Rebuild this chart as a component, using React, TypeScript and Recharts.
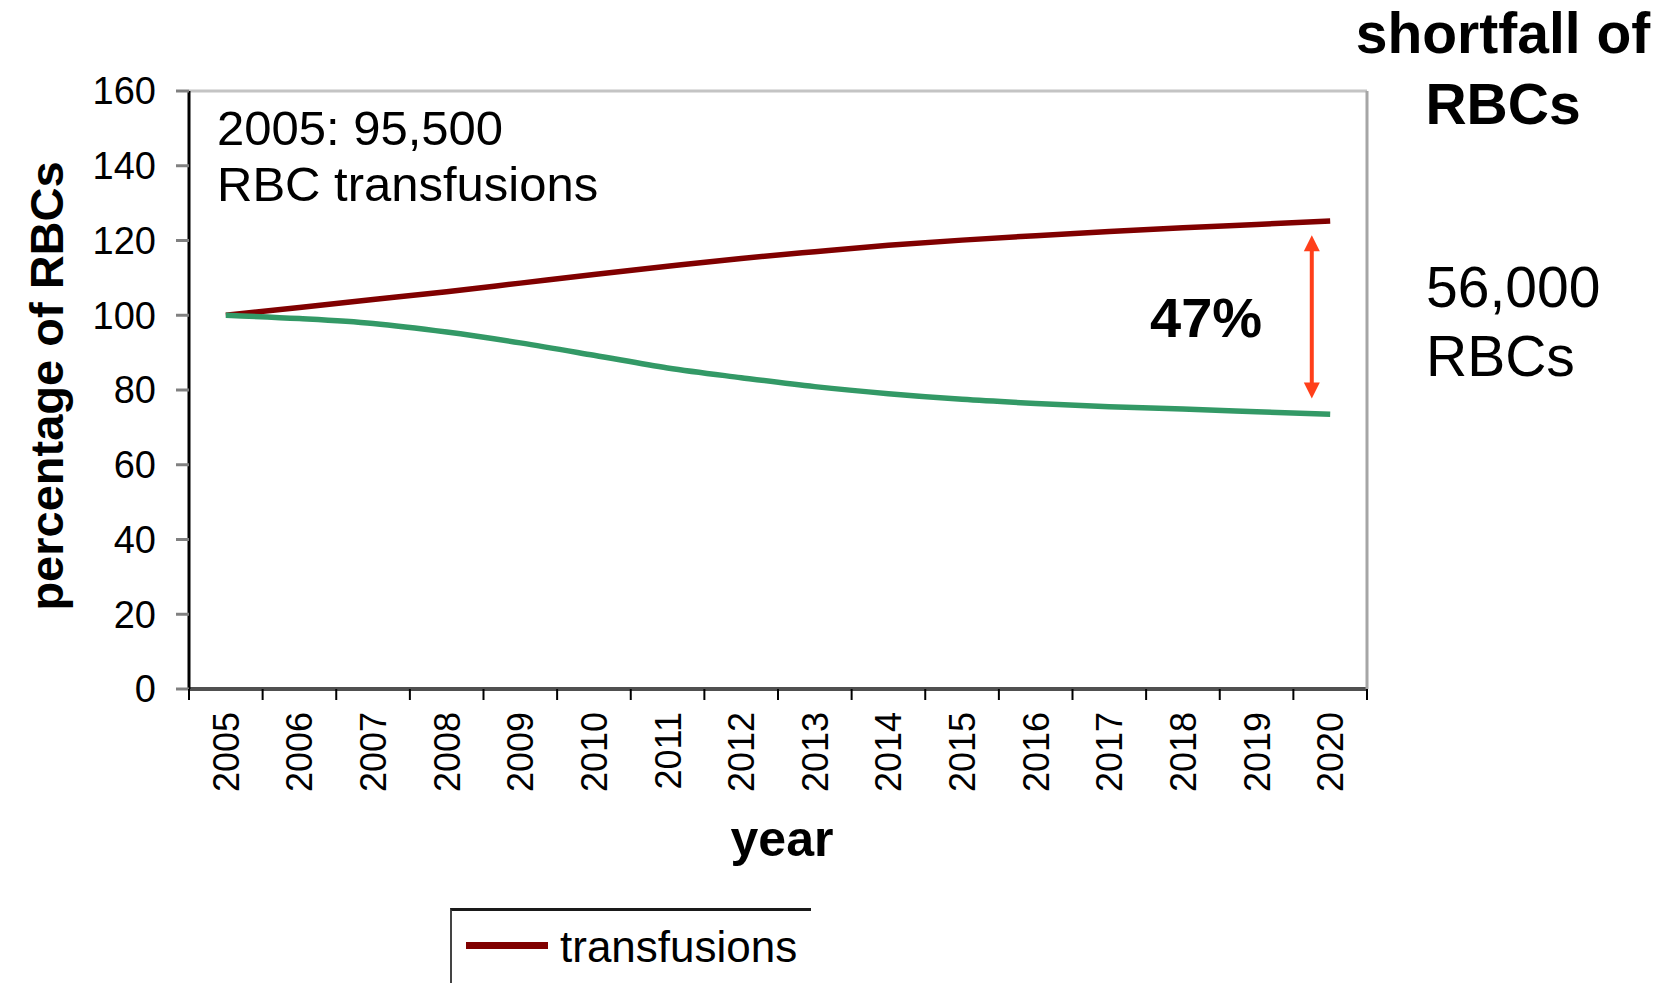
import { Legend, Line, LineChart, ReferenceLine, XAxis, YAxis } from "recharts";

// ---------------------------------------------------------------------------
// Data
// ---------------------------------------------------------------------------

const years = [
  "2005", "2006", "2007", "2008", "2009", "2010", "2011", "2012",
  "2013", "2014", "2015", "2016", "2017", "2018", "2019", "2020",
];

const transfusions = [
  100, 102.1, 104.2, 106.3, 108.6, 110.9, 113.1, 115.2,
  117.0, 118.7, 120.1, 121.3, 122.4, 123.4, 124.3, 125.2,
];

const supply = [
  100, 99.1, 97.8, 95.5, 92.6, 89.3, 85.9, 83.3,
  80.9, 79.0, 77.5, 76.4, 75.5, 74.9, 74.2, 73.5,
];

const yTicks = [0, 20, 40, 60, 80, 100, 120, 140, 160];

// shortfall arrow, from / to (percent)
const gapTop = 121.4;
const gapBottom = 77.7;

const data = years.map((year, i) => ({
  year,
  transfusions: transfusions[i],
  supply: supply[i],
}));

// ---------------------------------------------------------------------------
// Layout
// ---------------------------------------------------------------------------

const W = 1662;
const H = 983;
const PLOT_LEFT = 189;
const PLOT_RIGHT = 1367;
const PLOT_TOP = 91;
const PLOT_BOTTOM = 689;
const STEP = (PLOT_RIGHT - PLOT_LEFT) / years.length;
const FONT = '"Liberation Sans", Arial, Helvetica, sans-serif';

// ---------------------------------------------------------------------------
// Ticks, arrow, legend
// ---------------------------------------------------------------------------

function YearTick(props: any) {
  const { x, payload, index } = props;
  const last = index === years.length - 1;
  return (
    <g>
      <line
        x1={x - STEP / 2}
        x2={x - STEP / 2}
        y1={PLOT_BOTTOM}
        y2={PLOT_BOTTOM + 11}
        stroke="#000"
        strokeWidth={2}
      />
      {last && (
        <line
          x1={x + STEP / 2}
          x2={x + STEP / 2}
          y1={PLOT_BOTTOM}
          y2={PLOT_BOTTOM + 11}
          stroke="#000"
          strokeWidth={2}
        />
      )}
      <text
        transform={`translate(${x},${PLOT_BOTTOM + 23}) rotate(-90)`}
        textAnchor="end"
        dy="0.36em"
        fontSize={36}
        fill="#000"
      >
        {payload.value}
      </text>
    </g>
  );
}

function GapArrow(props: any) {
  const { x1, y1, y2 } = props;
  const x = x1 - STEP / 4;
  const top = Math.min(y1, y2);
  const bottom = Math.max(y1, y2);
  const color = "#ff3f1a";
  return (
    <g>
      <line x1={x} x2={x} y1={top + 8} y2={bottom - 8} stroke={color} strokeWidth={4} />
      <polygon points={`${x},${top} ${x - 8},${top + 16} ${x + 8},${top + 16}`} fill={color} />
      <polygon
        points={`${x},${bottom} ${x - 8},${bottom - 16} ${x + 8},${bottom - 16}`}
        fill={color}
      />
    </g>
  );
}

function LegendBox({ payload }: { payload?: Array<{ value: string; color: string; dataKey?: any }> }) {
  const items = (payload || []).filter((p) => p.dataKey === "transfusions");
  return (
    <div
      style={{
        width: 361,
        height: 75,
        boxSizing: "border-box",
        borderTop: "3px solid #1a1a1a",
        borderLeft: "2px solid #444",
        position: "relative",
        overflow: "hidden",
      }}
    >
      {items.map((item) => (
        <div key={item.value}>
          <div
            style={{
              position: "absolute",
              left: 14,
              top: 31,
              width: 82,
              height: 7,
              background: item.color,
            }}
          />
          <span
            style={{
              position: "absolute",
              left: 108,
              top: 14,
              fontSize: 44,
              lineHeight: "44px",
              color: "#000",
              whiteSpace: "nowrap",
            }}
          >
            {item.value}
          </span>
        </div>
      ))}
    </div>
  );
}

// ---------------------------------------------------------------------------
// Chart
// ---------------------------------------------------------------------------

export default function App() {
  return (
    <div
      style={{
        position: "absolute",
        left: 0,
        top: 0,
        width: W,
        height: H,
        background: "#fff",
        fontFamily: FONT,
        overflow: "hidden",
      }}
    >
      <LineChart
        width={W}
        height={H}
        data={data}
        margin={{ top: PLOT_TOP - 1, right: W - PLOT_RIGHT - 1, bottom: 0, left: 0 }}
      >
        <XAxis
          dataKey="year"
          scale="point"
          padding={{ left: STEP / 2, right: STEP / 2 }}
          interval={0}
          height={H - PLOT_BOTTOM}
          tickLine={false}
          axisLine={{ stroke: "#505050", strokeWidth: 4 }}
          tick={(p: any) => <YearTick {...p} />}
        />
        <XAxis
          xAxisId="top"
          orientation="top"
          dataKey="year"
          scale="point"
          padding={{ left: STEP / 2, right: STEP / 2 }}
          height={1}
          tick={false}
          tickLine={false}
          axisLine={{ stroke: "#c4c4c4", strokeWidth: 3 }}
        />
        <YAxis
          domain={[0, 160]}
          ticks={yTicks}
          interval={0}
          width={PLOT_LEFT}
          tickSize={13}
          tickMargin={20}
          tick={{ fill: "#000", fontSize: 38 }}
          tickLine={{ stroke: "#808080", strokeWidth: 3 }}
          axisLine={{ stroke: "#000", strokeWidth: 3 }}
        />
        <YAxis
          yAxisId="right"
          orientation="right"
          domain={[0, 160]}
          width={1}
          tick={false}
          tickLine={false}
          axisLine={{ stroke: "#a6a6a6", strokeWidth: 3 }}
        />
        <Line
          type="monotone"
          dataKey="transfusions"
          name="transfusions"
          stroke="#800000"
          strokeWidth={5.5}
          dot={false}
          isAnimationActive={false}
        />
        <Line
          type="monotone"
          dataKey="supply"
          name="supply"
          stroke="#339966"
          strokeWidth={5.5}
          dot={false}
          isAnimationActive={false}
        />
        <ReferenceLine
          segment={[
            { x: "2020", y: gapTop },
            { x: "2020", y: gapBottom },
          ]}
          shape={(p: any) => <GapArrow {...p} />}
        />
        <Legend
          layout="horizontal"
          verticalAlign="middle"
          align="center"
          content={(p: any) => <LegendBox payload={p.payload} />}
          wrapperStyle={{ left: 450, top: 908, width: 361, height: 75 }}
        />
      </LineChart>

      <svg
        width={W}
        height={H}
        style={{ position: "absolute", left: 0, top: 0, pointerEvents: "none" }}
        fontFamily={FONT}
      >
        <text
          transform="translate(46,386) rotate(-90)"
          textAnchor="middle"
          dominantBaseline="central"
          fontSize={47}
          fontWeight="bold"
        >
          percentage of RBCs
        </text>
        <text x={782} y={856} textAnchor="middle" fontSize={50} fontWeight="bold">
          year
        </text>
        <text x={217} y={145} fontSize={49}>
          2005: 95,500
        </text>
        <text x={217} y={201} fontSize={49}>
          RBC transfusions
        </text>
        <text x={1150} y={337} fontSize={56} fontWeight="bold">
          47%
        </text>
        <text x={1503} y={53} textAnchor="middle" fontSize={57} fontWeight="bold">
          shortfall of
        </text>
        <text x={1503} y={124} textAnchor="middle" fontSize={57} fontWeight="bold">
          RBCs
        </text>
        <text x={1426} y={307} fontSize={57}>
          56,000
        </text>
        <text x={1426} y={376} fontSize={57}>
          RBCs
        </text>
      </svg>
    </div>
  );
}
